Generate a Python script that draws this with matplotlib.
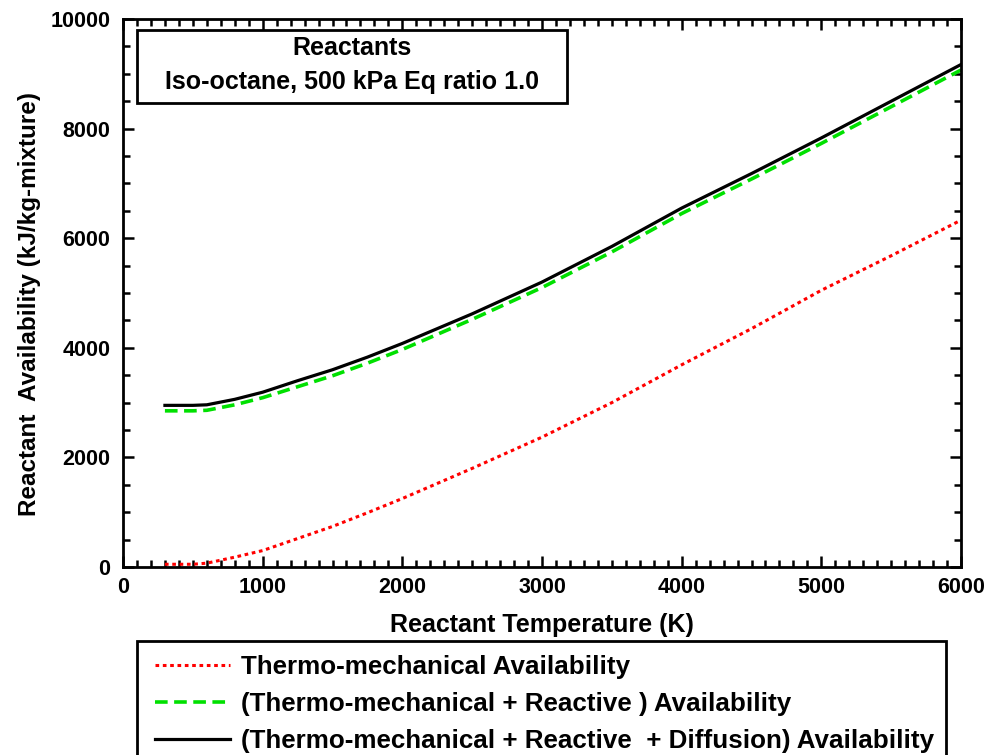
"""
Reactant availability vs temperature (iso-octane, 500 kPa, phi = 1.0)
"""
import matplotlib
matplotlib.use('Agg')
import matplotlib.pyplot as plt
from matplotlib.patches import Rectangle
from matplotlib.ticker import MultipleLocator

# values
temperature = [300, 400, 500, 600, 800, 1000, 1250, 1500, 1750, 2000, 2500,
               3000, 3500, 4000, 4500, 5000, 5500, 6000]
thermo_mech = [50, 50, 50, 70, 180, 300, 520, 740, 990, 1250, 1800,
               2370, 3000, 3690, 4350, 5050, 5680, 6330]
thermo_react = [2850, 2850, 2850, 2860, 2960, 3090, 3290, 3490, 3720, 3970, 4520,
                5100, 5750, 6450, 7080, 7730, 8400, 9070]
thermo_react_diff = [2950, 2950, 2950, 2960, 3060, 3190, 3400, 3600, 3830, 4080, 4620,
                     5200, 5850, 6550, 7180, 7830, 8500, 9170]

labels = ['Thermo-mechanical Availability',
          '(Thermo-mechanical + Reactive ) Availability',
          '(Thermo-mechanical + Reactive  + Diffusion) Availability']

plt.rcParams['font.family'] = ['Liberation Sans', 'DejaVu Sans']
plt.rcParams['font.weight'] = 'bold'

fig = plt.figure(figsize=(9.89, 7.55), dpi=100)
ax = fig.add_axes([0.1244, 0.249, 0.8473, 0.7258])

l1, = ax.plot(temperature, thermo_mech, color='red', linestyle=(0, (1.2, 1.2)), linewidth=2.2)
l2, = ax.plot(temperature, thermo_react, color='#00e000', linestyle=(0, (3.5, 1.8)), linewidth=2.6)
l3, = ax.plot(temperature, thermo_react_diff, color='black', linestyle='-', linewidth=2.3)

ax.set_xlim(0, 6000)
ax.set_ylim(0, 10000)
ax.xaxis.set_major_locator(MultipleLocator(1000))
ax.xaxis.set_minor_locator(MultipleLocator(100))
ax.yaxis.set_major_locator(MultipleLocator(2000))
ax.yaxis.set_minor_locator(MultipleLocator(500))
ax.tick_params(which='both', direction='in', top=True, right=True, width=1.8,
               labelsize=15.5)
ax.tick_params(which='major', length=8)
ax.tick_params(which='minor', length=5)
ax.tick_params(axis='y', pad=9)
ax.tick_params(axis='x', pad=7)
for lab in ax.get_xticklabels() + ax.get_yticklabels():
    lab.set_fontweight('bold')
for sp in ax.spines.values():
    sp.set_linewidth(2)

ax.set_xlabel('Reactant Temperature (K)', fontsize=18, fontweight='bold', labelpad=11)
ax.set_ylabel('Reactant  Availability (kJ/kg-mixture)', fontsize=17.5, fontweight='bold')
ax.yaxis.set_label_coords(-0.098, 0.48)

# caption box inside the axes
ax.add_patch(Rectangle((0.0167, 0.847), 0.513, 0.133, transform=ax.transAxes,
                       fill=False, edgecolor='black', linewidth=2))
ax.text(0.273, 0.947, 'Reactants', transform=ax.transAxes, ha='center', va='center',
        fontsize=18, fontweight='bold')
ax.text(0.273, 0.885, 'Iso-octane, 500 kPa Eq ratio 1.0', transform=ax.transAxes,
        ha='center', va='center', fontsize=18, fontweight='bold')

# legend below the axes, its frame runs off the bottom of the figure
fig.patches.append(Rectangle((0.1385, -0.05), 0.818, 0.201, transform=fig.transFigure,
                             fill=False, edgecolor='black', linewidth=2))
fig.legend([l1, l2, l3], labels, loc='upper left', bbox_to_anchor=(0.1567, 0.132),
           frameon=False, fontsize=18.7, handlelength=2.9, handletextpad=0.4,
           labelspacing=0.5, borderpad=0, borderaxespad=0)

fig.savefig('out.png', dpi=100)
